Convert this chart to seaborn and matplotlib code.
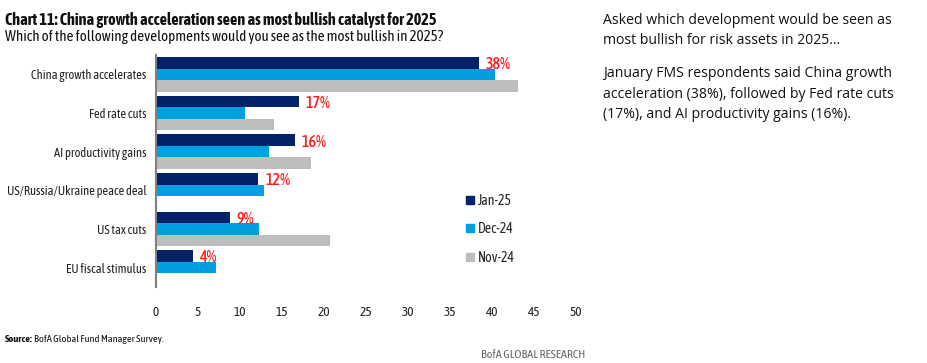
import pandas as pd
import numpy as np

import matplotlib
matplotlib.use("Agg")
import matplotlib.pyplot as plt
import seaborn as sns
from matplotlib.lines import Line2D

categories = [
    "China growth accelerates",
    "Fed rate cuts",
    "AI productivity gains",
    "US/Russia/Ukraine peace deal",
    "US tax cuts",
    "EU fiscal stimulus",
]
jan25 = [38.5, 17.0, 16.5, 12.2, 8.8, 4.4]
dec24 = [40.4, 10.6, 13.5, 12.9, 12.3, 7.1]
nov24 = [43.1, 14.0, 18.5, np.nan, 20.7, np.nan]
jan_labels = ["38%", "17%", "16%", "12%", "9%", "4%"]
series = ["Jan-25", "Dec-24", "Nov-24"]
colors = ["#012169", "#009FDF", "#BDBDBD"]

df = pd.DataFrame({"Development": categories * 3,
                   "Survey": [s for s in series for _ in categories],
                   "Share": jan25 + dec24 + nov24})

sns.set_style("white")
narrow = ["Asap Condensed", "Archivo Narrow", "DejaVu Sans"]
plt.rcParams["font.family"] = narrow

fig = plt.figure(figsize=(9.28, 3.63), dpi=100)
ax = fig.add_axes([156 / 928, 1 - 287 / 363, 420 / 928, 232 / 363])

sns.barplot(data=df, x="Share", y="Development", hue="Survey",
            hue_order=series, palette=colors, order=categories,
            orient="h", width=0.89, linewidth=0, saturation=1,
            ax=ax, legend=False)

ax.set_xlim(0, 50)
ax.set_ylim(len(categories) - 0.5, -0.5)
ax.set_xticks(range(0, 51, 5))
ax.set_xlabel("")
ax.set_ylabel("")
ax.tick_params(axis="x", length=0, labelsize=9.5, colors="#222222", pad=14)
ax.tick_params(axis="y", length=0, labelsize=9, colors="#222222", pad=7)
for side in ["top", "right", "bottom"]:
    ax.spines[side].set_visible(False)
ax.spines["left"].set_color("#808080")
ax.spines["left"].set_linewidth(1.5)

# red Jan-25 labels
for i, (v, lab) in enumerate(zip(jan25, jan_labels)):
    ax.text(v + 0.8, i - 0.25, lab, color="#FF1A1A", fontsize=11.5,
            fontweight="medium", va="center", ha="left")

handles = [Line2D([0], [0], marker="s", linestyle="", markersize=6,
                  markerfacecolor=c, markeredgecolor=c) for c in colors]
fig.legend(handles, series, loc="upper left",
           bbox_to_anchor=(449 / 928, 1 - 181 / 363), frameon=False,
           fontsize=10, handletextpad=0.0, labelspacing=1.05,
           handlelength=1.2)

fig.text(5 / 928, 1 - 20 / 363,
         "Chart 11: China growth acceleration seen as most bullish catalyst for 2025",
         fontsize=11.6, fontweight="bold", va="center", color="#111111")
fig.text(5 / 928, 1 - 37 / 363,
         "Which of the following developments would you see as the most bullish in 2025?",
         fontsize=10.8, va="center", color="#111111")
fig.text(5 / 928, 1 - 339 / 363, "Source:", fontsize=7.5, fontweight="bold",
         va="center", color="#111111")
fig.text(34 / 928, 1 - 339 / 363, "BofA Global Fund Manager Survey.",
         fontsize=7.5, va="center", color="#111111")
fig.text(585 / 928, 1 - 354 / 363, "BofA GLOBAL RESEARCH",
         fontsize=8.7, va="center", ha="right", color="#666666")

side_font = ["Open Sans", "DejaVu Sans"]
fig.text(603 / 928, 1 - 13 / 363,
         "Asked which development would be seen as\nmost bullish for risk assets in 2025...",
         fontsize=10.1, va="top", linespacing=1.5, family=side_font, color="#111111")
fig.text(603 / 928, 1 - 66 / 363,
         "January FMS respondents said China growth\nacceleration (38%), followed by Fed rate cuts\n(17%), and AI productivity gains (16%).",
         fontsize=10.1, va="top", linespacing=1.5, family=side_font, color="#111111")

fig.savefig("out.png", dpi=100)
